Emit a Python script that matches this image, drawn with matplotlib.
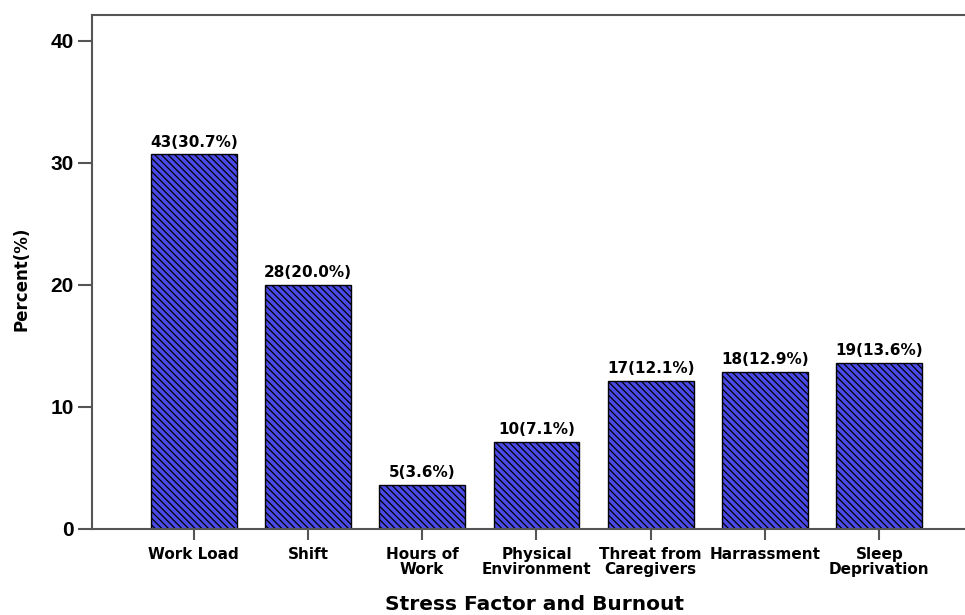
import matplotlib.pyplot as plt
import numpy as np

plt.rcParams['font.family'] = ['DejaVu Sans']
plt.rcParams['hatch.linewidth'] = 0.9
plt.rcParams['hatch.color'] = '#1e1e70'

factors = ['Work Load', 'Shift', 'Hours of\nWork', 'Physical\nEnvironment',
           'Threat from\nCaregivers', 'Harrassment', 'Sleep\nDeprivation']
counts = [43, 28, 5, 10, 17, 18, 19]
percents = [30.7, 20.0, 3.6, 7.1, 12.1, 12.9, 13.6]

fig = plt.figure(figsize=(9.65, 6.15), dpi=100)
ax = fig.add_axes([92 / 965, 86 / 615, 1 - 92 / 965, 514 / 615])

x = np.arange(len(factors))
bars = ax.bar(x, percents, width=0.75, color='#4a4ae8', edgecolor='black',
              linewidth=1.0, hatch='\\\\\\\\\\')

for xi, c, p in zip(x, counts, percents):
    ax.text(xi, p + 0.4, '%d(%.1f%%)' % (c, p), ha='center', va='bottom',
            fontsize=11, fontweight='bold')

ax.set_xlim(-0.89, 6.75)
ax.set_ylim(0, 42.13)
ax.set_yticks([0, 10, 20, 30, 40])
ax.set_xticks(x)
ax.set_xticklabels(factors, fontsize=11, fontweight='bold', linespacing=1.0)
for lab in ax.get_yticklabels():
    lab.set_fontweight('bold')
    lab.set_fontsize(15)
    lab.set_family('Liberation Sans')

for s in ['left', 'bottom', 'top']:
    ax.spines[s].set_color('#555555')
    ax.spines[s].set_linewidth(1.5)
ax.spines['right'].set_visible(False)
ax.tick_params(axis='y', length=10, width=1.5, color='#555555', pad=3)
ax.tick_params(axis='x', length=8, width=1.5, color='#555555', pad=5)

ax.set_ylabel('Percent(%)', fontsize=12, fontweight='bold')
ax.set_xlabel('Stress Factor and Burnout', fontsize=14.5, fontweight='bold')
ax.yaxis.set_label_coords(-0.071, 0.486)
ax.xaxis.set_label_coords(0.507, -0.128)

plt.savefig('out.png', dpi=100)
